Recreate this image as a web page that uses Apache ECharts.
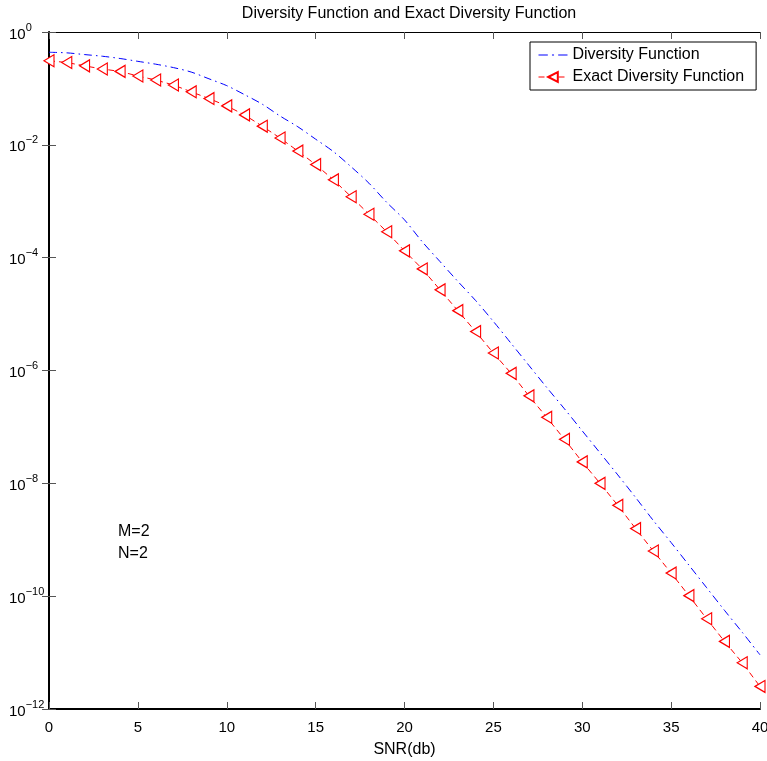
<!DOCTYPE html>
<html><head><meta charset="utf-8">
<script src="https://cdn.jsdelivr.net/npm/echarts@6/dist/echarts.min.js"></script>
<style>html,body{margin:0;padding:0;background:#fff}#c{width:767px;height:761px}</style>
</head><body><div id="c"></div>
<script>
var snr = [0,1,2,3,4,5,6,7,8,9,10,11,12,13,14,15,16,17,18,19,20,21,22,23,24,25,26,27,28,29,30,31,32,33,34,35,36,37,38,39,40];
var diversity = [0.437,0.427,0.398,0.372,0.339,0.302,0.269,0.234,0.195,0.148,0.112,0.0776,0.0525,0.0324,0.0209,0.0126,7.59e-3,4.07e-3,2.09e-3,9.55e-4,4.68e-4,1.91e-4,8.51e-5,3.80e-5,1.74e-5,7.41e-6,3.02e-6,1.23e-6,5.01e-7,2.09e-7,8.51e-8,3.47e-8,1.41e-8,5.62e-9,2.19e-9,8.91e-10,3.55e-10,1.41e-10,5.62e-11,2.29e-11,9.12e-12];
var exact = [0.309,0.288,0.251,0.221,0.200,0.166,0.141,0.115,0.0871,0.0661,0.0490,0.0339,0.0214,0.0132,7.76e-3,4.47e-3,2.40e-3,1.20e-3,5.89e-4,2.88e-4,1.32e-4,6.31e-5,2.69e-5,1.15e-5,4.90e-6,2.04e-6,8.91e-7,3.55e-7,1.48e-7,6.03e-8,2.40e-8,1.00e-8,4.07e-9,1.58e-9,6.31e-10,2.57e-10,1.02e-10,3.98e-11,1.58e-11,6.61e-12,2.51e-12];
var seriesNames = ['Diversity Function','Exact Diversity Function'];
var titleText = 'Diversity Function and Exact Diversity Function';
var xName = 'SNR(db)';
var notes = ['M=2','N=2'];

function pairs(xs, ys){ return xs.map(function(x,i){return [x, ys[i]];}); }
var F = 'Liberation Sans, Arial, sans-serif';
var dashDotIcon = 'path://M0,5h9v1.2h-9z M13,5h2v1.2h-2z M19,5h9v1.2h-9z';
var chart = echarts.init(document.getElementById('c'));
chart.setOption({
  animation:false,
  backgroundColor:'#fff',
  title:{text:titleText,left:404,textAlign:'center',top:1,textStyle:{fontSize:16,fontWeight:'normal',color:'#000',fontFamily:F}},
  grid:{left:49,right:7,top:32,bottom:52,containLabel:false,outerBoundsMode:'none'},
  legend:{left:530,top:42,orient:'vertical',itemWidth:29,itemHeight:12,itemGap:6,
    padding:[5,12,5,8],borderColor:'#000',borderWidth:1,backgroundColor:'#fff',
    lineStyle:{width:1},
    textStyle:{fontSize:16,color:'#000',fontFamily:F},
    data:[{name:seriesNames[0],icon:dashDotIcon,itemStyle:{color:'#0000ff'}},{name:seriesNames[1]}]},
  xAxis:[{type:'value',min:0,max:40,interval:5,name:xName,nameLocation:'middle',nameGap:33,
      nameTextStyle:{fontSize:16,color:'#000',fontFamily:F},
      axisLine:{lineStyle:{color:'#000',width:2}},
      axisTick:{inside:true,length:7,lineStyle:{color:'#555'}},
      axisLabel:{fontSize:15,color:'#000',margin:11,fontFamily:F},splitLine:{show:false}},
    {type:'value',min:0,max:40,interval:5,position:'top',
      axisLine:{lineStyle:{color:'#000',width:1}},
      axisTick:{inside:true,length:7,lineStyle:{color:'#555'}},
      axisLabel:{show:false},splitLine:{show:false}}],
  yAxis:[{type:'log',logBase:10,min:1e-12,max:1,interval:2,
      axisLine:{lineStyle:{color:'#000',width:2}},
      axisTick:{inside:true,length:7,lineStyle:{color:'#555'}},
      minorTick:{show:false},splitLine:{show:false},
      axisLabel:{margin:40,align:'left',color:'#000',fontFamily:F,
        formatter:function(v){var e=Math.round(Math.log10(v));return '{b|10}{s|'+(e<0?'\u2212'+(-e):e)+'}';},
        rich:{b:{fontSize:15,color:'#000',fontFamily:F,lineHeight:15,padding:[5,0,0,0]},
              s:{fontSize:11,color:'#000',fontFamily:F,lineHeight:11,padding:[0,0,9,0]}}}},
    {type:'log',logBase:10,min:1e-12,max:1,interval:2,position:'right',
      axisLine:{lineStyle:{color:'#000',width:1}},
      axisTick:{inside:true,length:7,lineStyle:{color:'#555'}},
      axisLabel:{show:false},splitLine:{show:false}}],
  series:[
    {name:seriesNames[0],type:'line',data:pairs(snr,diversity),showSymbol:false,symbol:'none',smooth:0.3,
      lineStyle:{color:'#0000ff',width:1,type:[8,4,1.5,4]},itemStyle:{color:'#0000ff'}},
    {name:seriesNames[1],type:'line',data:pairs(snr,exact),
      symbol:'path://M0,5 L10,0 L10,10 Z',symbolSize:[10,12],
      lineStyle:{color:'#ff0000',width:1,type:[6,4]},
      itemStyle:{color:'#fff',borderColor:'#ff0000',borderWidth:1.2}}
  ],
  graphic:[
    {type:'text',left:118,top:524,style:{text:notes[0],fontSize:16,fill:'#000',fontFamily:F}},
    {type:'text',left:118,top:546,style:{text:notes[1],fontSize:16,fill:'#000',fontFamily:F}}
  ]
});
</script></body></html>
